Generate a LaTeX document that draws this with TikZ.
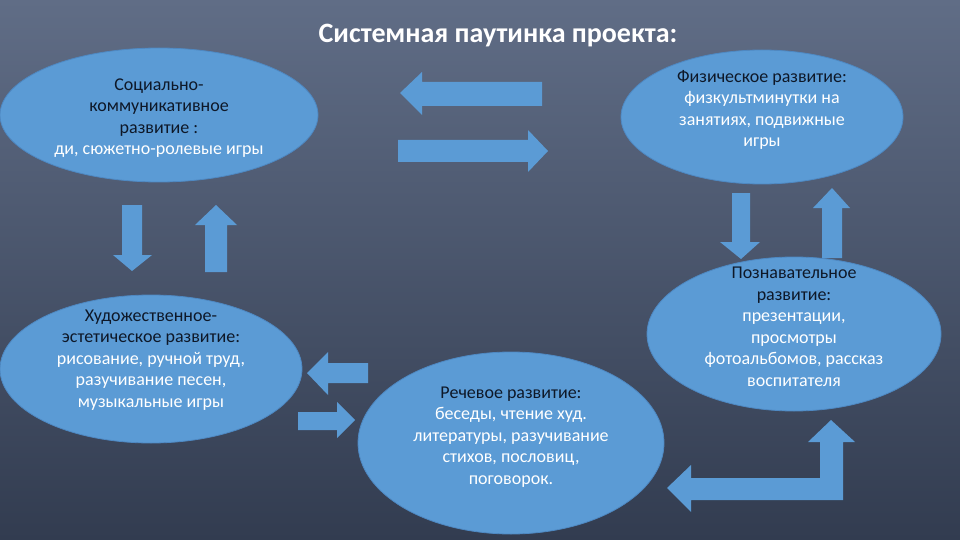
\documentclass[tikz,border=0pt]{standalone}
\usepackage{fontspec}
\setmainfont{Carlito}
\usetikzlibrary{shapes.geometric}
\definecolor{bgtop}{RGB}{96,109,134}
\definecolor{bgbot}{RGB}{50,60,80}
\definecolor{petal}{RGB}{91,155,213}
\definecolor{petaledge}{RGB}{78,136,194}
\definecolor{ink}{RGB}{14,24,40}
\tikzset{
  area/.style={draw=petaledge, line width=0.8pt, fill=petal, ellipse, inner sep=0pt},
  caption/.style={align=center, text=white, font=\fontsize{18}{21.5}\selectfont},
  blockarrow/.style={fill=petal, draw=none},
}

\begin{document}
\begin{tikzpicture}[x=1pt, y=-1pt]
  \shade[top color=bgtop, bottom color=bgbot] (0,0) rectangle (960,540);
  \useasboundingbox (0,0) rectangle (960,540);

  \node[font=\fontsize{28}{31}\selectfont\bfseries, text=white] (title) at (498,36) {Системная паутинка проекта:};

  % areas of development
  \node[area, minimum width=318pt, minimum height=134pt] (social) at (159,115) {};
  \node[area, minimum width=282pt, minimum height=134pt] (phys) at (762,117) {};
  \node[area, minimum width=302pt, minimum height=148pt] (art) at (151,369) {};
  \node[area, minimum width=294pt, minimum height=154pt] (cogn) at (794,334) {};
  \node[area, minimum width=306pt, minimum height=182pt] (speech) at (511,443) {};

  \node[caption] (socialtxt) at (159,118) {\textcolor{ink}{Социально-}\\\textcolor{ink}{коммуникативное}\\\textcolor{ink}{развитие :}\\ди, сюжетно-ролевые игры};
  \node[caption] (phystxt) at (762,110) {\textcolor{ink}{Физическое развитие:}\\физкультминутки на\\занятиях, подвижные\\игры};
  \node[caption] (arttxt) at (151,360) {\textcolor{ink}{Художественное-}\\\textcolor{ink}{эстетическое развитие:}\\рисование, ручной труд,\\разучивание песен,\\музыкальные игры};
  \node[caption] (cogntxt) at (794,327) {\textcolor{ink}{Познавательное}\\\textcolor{ink}{развитие:}\\презентации,\\просмотры\\фотоальбомов, рассказ\\воспитателя};
  \node[caption] (speechtxt) at (511,437) {\textcolor{ink}{Речевое развитие:}\\беседы, чтение худ.\\литературы, разучивание\\стихов, пословиц,\\поговорок.};

  % block arrows
  \fill[blockarrow] (400,93) -- (422,72) -- (422,82) -- (542,82) -- (542,106) -- (422,106) -- (422,115) -- cycle;
  \fill[blockarrow] (548,151) -- (528,130) -- (528,140) -- (398,140) -- (398,162) -- (528,162) -- (528,172) -- cycle;
  \fill[blockarrow] (122,205) -- (142,205) -- (142,255) -- (152,255) -- (132,271) -- (113,255) -- (122,255) -- cycle;
  \fill[blockarrow] (216,205) -- (237,225) -- (227,225) -- (227,272) -- (205,272) -- (205,225) -- (195,225) -- cycle;
  \fill[blockarrow] (732,193) -- (750,193) -- (750,242) -- (760,242) -- (741,259) -- (720,242) -- (732,242) -- cycle;
  \fill[blockarrow] (832,188) -- (850,208) -- (842,208) -- (842,258) -- (822,258) -- (822,208) -- (813,208) -- cycle;
  \fill[blockarrow] (307,373) -- (328,352) -- (328,363) -- (368,363) -- (368,383) -- (328,383) -- (328,395) -- cycle;
  \fill[blockarrow] (355,420) -- (337,438) -- (337,430) -- (298,430) -- (298,412) -- (337,412) -- (337,402) -- cycle;
  \fill[blockarrow] (667,488) -- (691,465) -- (691,478) -- (820,478) -- (820,442) -- (808,442) -- (831,420)
    -- (855,442) -- (843,442) -- (843,500) -- (691,500) -- (691,512) -- cycle;
\end{tikzpicture}
\end{document}
